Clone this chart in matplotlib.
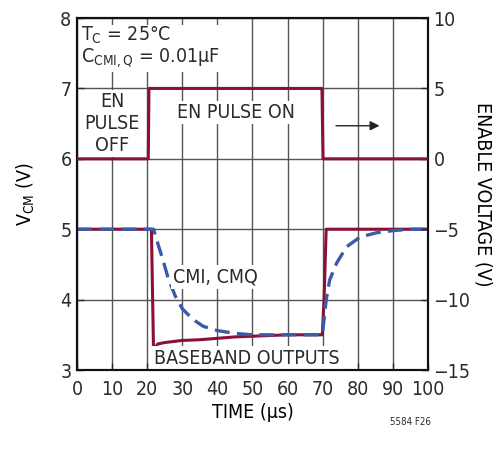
import matplotlib
matplotlib.use("Agg")
import matplotlib.pyplot as plt

plt.rcParams['font.family'] = ['DejaVu Sans']
plt.rcParams['font.stretch'] = 'condensed'
plt.rcParams['mathtext.fontset'] = 'custom'
plt.rcParams['mathtext.rm'] = 'DejaVu Sans:stretch=condensed'
plt.rcParams['text.color'] = '#2b2b2b'

# enable pulse (right axis, V)
t_en = [0, 20.3, 20.5, 69.8, 70.1, 100]
v_en = [0, 0, 5, 5, 0, 0]

# baseband outputs (left axis, V_CM)
t_bb = [0, 21.2, 21.8, 23.0, 25, 30, 35, 40, 45, 50, 55, 60, 65, 69.9, 70.4, 71.0, 100]
v_bb = [5, 5, 3.28, 3.37, 3.39, 3.42, 3.43, 3.45, 3.47, 3.48, 3.49, 3.5, 3.5, 3.5, 4.0, 5.0, 5.0]

# CMI, CMQ
t_cm = [0, 21.8, 23, 24.5, 26, 28, 30, 33, 36, 40, 45, 50, 55, 60, 65, 69.9,
        71, 72, 74, 76.8, 80.7, 85.4, 90, 95, 100]
v_cm = [5, 5, 4.8, 4.56, 4.3, 4.05, 3.87, 3.72, 3.62, 3.56, 3.52, 3.5, 3.5, 3.5, 3.5, 3.5,
        3.99, 4.28, 4.52, 4.75, 4.89, 4.95, 4.98, 5.0, 5.0]

x_ticks = list(range(0, 101, 10))
left_ticks = [3, 4, 5, 6, 7, 8]
right_ticks = [-15, -10, -5, 0, 5, 10]

red = '#8c0f35'
blue = '#3b5ba9'
fs = 14

fig = plt.figure(figsize=(4.97, 4.51), dpi=100)
ax = fig.add_axes([0.155, 0.1796, 0.706, 0.7804])
ax2 = ax.twinx()

ax.set_xlim(0, 100)
ax.set_ylim(3, 8)
ax2.set_ylim(-15, 10)
ax.set_xticks(x_ticks)
ax.set_yticks(left_ticks)
ax2.set_yticks(right_ticks)
ax2.set_yticklabels([str(v).replace('-', '\u2212') for v in right_ticks])

ax.grid(True, color='#555555', lw=1.0)
ax.set_axisbelow(True)
for a in (ax, ax2):
    a.tick_params(direction='in', length=5, width=1, labelsize=fs, colors='#2b2b2b', pad=4)
    for s in a.spines.values():
        s.set_linewidth(1.5)
        s.set_color('#111111')
ax.tick_params(axis='x', pad=7)

ax.plot(t_cm, v_cm, color=blue, lw=2.4, dashes=(4.5, 2.2), zorder=4)
ax.plot(t_bb, v_bb, color=red, lw=2.2, zorder=3)
ax2.plot(t_en, v_en, color=red, lw=2.2, zorder=3)

ax.set_xlabel('TIME (\u00b5s)', fontsize=fs, labelpad=3)
ax.set_ylabel(r'V$_{\mathrm{CM}}$ (V)', fontsize=fs, labelpad=17)
ax2.set_ylabel('ENABLE VOLTAGE (V)', fontsize=fs, rotation=270, labelpad=16)

box = dict(facecolor='white', edgecolor='none', pad=1.5)
ax.text(1.2, 7.9, 'T$_{\\mathrm{C}}$ = 25\u00b0C\nC$_{\\mathrm{CMI,Q}}$ = 0.01\u00b5F',
        fontsize=fs, va='top', ha='left', linespacing=1.0, bbox=box, zorder=5)
ax.text(10, 6.5, 'EN\nPULSE\nOFF', fontsize=fs, ha='center', va='center',
        linespacing=1.2, bbox=box, zorder=5)
ax.text(45.3, 6.66, 'EN PULSE ON', fontsize=fs, ha='center', va='center', bbox=box, zorder=5)
ax.text(39.5, 4.32, 'CMI, CMQ', fontsize=fs, ha='center', va='center', bbox=box, zorder=5)
ax.text(48.5, 3.17, 'BASEBAND OUTPUTS', fontsize=fs, ha='center', va='center', bbox=box, zorder=5)
ax.annotate('', xy=(87, 6.47), xytext=(73, 6.47),
            arrowprops=dict(arrowstyle='-|>', color='#222222', lw=1.0,
                            mutation_scale=14), zorder=5)

fig.text(0.785, 0.065, '5584 F26', fontsize=7, ha='left', va='center')

fig.savefig('out.png', dpi=100)
